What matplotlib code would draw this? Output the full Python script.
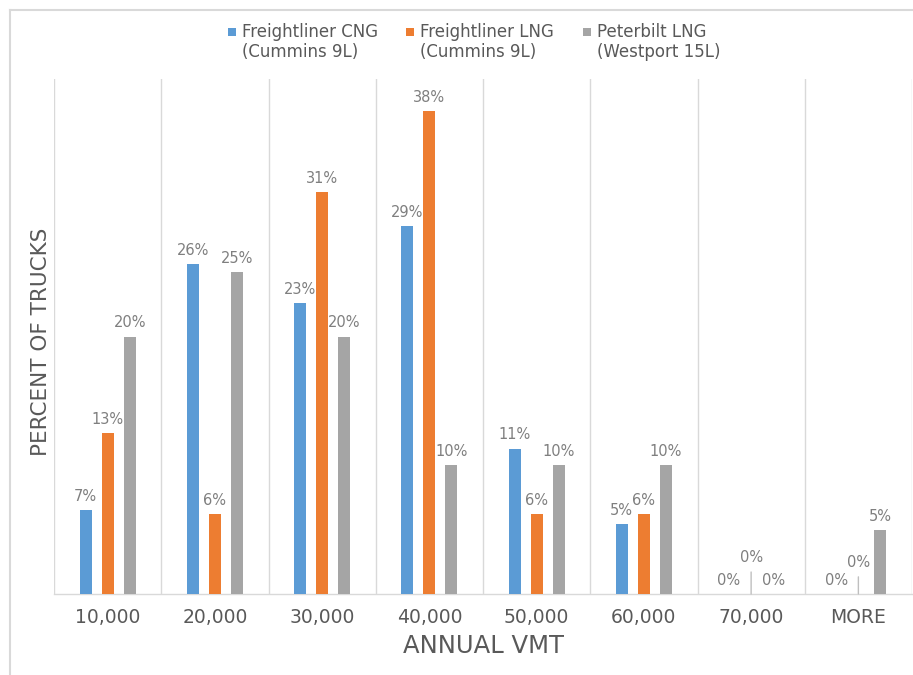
import numpy as np
import matplotlib
matplotlib.use("Agg")
import matplotlib.pyplot as plt
from matplotlib.lines import Line2D
from matplotlib.patches import Rectangle

categories = ["10,000", "20,000", "30,000", "40,000", "50,000", "60,000", "70,000", "MORE"]
series_line1 = ["Freightliner CNG", "Freightliner LNG", "Peterbilt LNG"]
series_line2 = ["(Cummins 9L)", "(Cummins 9L)", "(Westport 15L)"]
cng_cummins = [6.5, 25.6, 22.6, 28.6, 11.3, 5.4, 0.0, 0.0]
lng_cummins = [12.5, 6.25, 31.25, 37.5, 6.25, 6.25, 0.0, 0.0]
lng_westport = [20.0, 25.0, 20.0, 10.0, 10.0, 10.0, 0.0, 5.0]

colors = ["#5B9BD5", "#ED7D31", "#A5A5A5"]
series = [cng_cummins, lng_cummins, lng_westport]

# offsets (points) of the labels for zero-height bars in the middle series
zero_label_raise = {6: 23, 7: 19.5}

plt.rcParams['font.family'] = ['DejaVu Sans']

fig = plt.figure(figsize=(9.13, 6.75), dpi=100)
W, H = 913, 675
ax = fig.add_axes([54 / W, 1 - 594 / H, (912 - 54) / W, (594 - 79) / H])

n = len(categories)
x = np.arange(n)
spacing = 0.206
width = 0.112
label_col = "#7F7F7F"
text_col = "#595959"

for si, (vals, col) in enumerate(zip(series, colors)):
    xs = x + (si - 1) * spacing
    ax.bar(xs, vals, width=width, color=col, zorder=3)
    for ci, (xx, v) in enumerate(zip(xs, vals)):
        txt = f"{int(np.floor(v + 0.5))}%"
        if v == 0 and si == 1 and ci in zero_label_raise:
            ax.annotate(txt, xy=(xx, 0), xytext=(0, zero_label_raise[ci]),
                        textcoords="offset points", ha="center", va="baseline",
                        fontsize=10.5, color=label_col,
                        arrowprops=dict(arrowstyle="-", color="#BFBFBF", lw=1,
                                        shrinkA=3, shrinkB=0))
        else:
            ax.annotate(txt, xy=(xx, v), xytext=(0, 6.5),
                        textcoords="offset points", ha="center", va="baseline",
                        fontsize=10.5, color=label_col)

ax.set_xlim(-0.5, n - 0.5)
ax.set_ylim(0, 40)
ax.set_yticks([])
ax.set_xticks(x)
ax.set_xticklabels(categories, fontsize=13.5, color=text_col)
ax.tick_params(axis="x", length=0, pad=10)
for b in np.arange(n + 1) - 0.5:
    ax.axvline(b, color="#D9D9D9", lw=1, zorder=1)
for s in ["top", "right", "left"]:
    ax.spines[s].set_visible(False)
ax.spines["bottom"].set_color("#D9D9D9")
ax.spines["bottom"].set_linewidth(1)

ax.set_xlabel("ANNUAL VMT", fontsize=17.5, color=text_col, labelpad=5)
fig.text(41 / W, 1 - 342 / H, "PERCENT OF TRUCKS", rotation=90, fontsize=15.5,
         color=text_col, ha="center", va="center")

# legend (manual, first-line aligned markers)
leg_x0 = 228
leg_step = 177.5
for i, col in enumerate(colors):
    lx = leg_x0 + i * leg_step
    fig.add_artist(Rectangle((lx / W, 1 - 36 / H), 8 / W, 8 / H,
                             transform=fig.transFigure, color=col, lw=0))
    fig.text((lx + 14) / W, 1 - 37 / H, series_line1[i], fontsize=12,
             color=text_col, ha="left", va="baseline")
    fig.text((lx + 14) / W, 1 - 57 / H, series_line2[i], fontsize=12,
             color=text_col, ha="left", va="baseline")

# outer chart border (top and left visible)
fig.add_artist(Line2D([10 / W, 1], [1 - 9.5 / H, 1 - 9.5 / H], transform=fig.transFigure,
                      color="#D9D9D9", lw=1.5))
fig.add_artist(Line2D([10 / W, 10 / W], [0, 1 - 9.5 / H], transform=fig.transFigure,
                      color="#D9D9D9", lw=1.5))

fig.savefig("out.png", dpi=100)
